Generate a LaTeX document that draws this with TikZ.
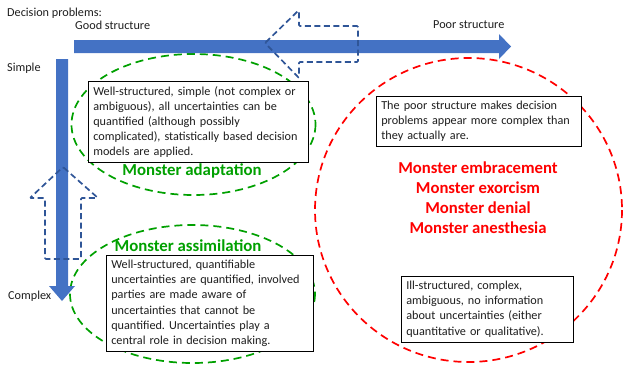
\documentclass[tikz,border=0pt]{standalone}
\usepackage{fontspec}
\setmainfont{Carlito}
\frenchspacing
\definecolor{barblue}{RGB}{68,114,196}
\definecolor{dashblue}{RGB}{47,85,151}
\definecolor{mgreen}{RGB}{0,160,0}
\definecolor{mred}{RGB}{255,0,0}
\definecolor{txt}{RGB}{30,30,30}
\begin{document}
\begin{tikzpicture}[x=1bp,y=-1bp,
  font=\fontsize{12.2bp}{15.2bp}\selectfont, text=txt,
  bar/.style={fill=barblue},
  dasharrow/.style={draw=dashblue,line width=1.7bp,dash pattern=on 6bp off 3.5bp,rounded corners=1bp},
  greenring/.style={draw=mgreen,line width=1.7bp,dash pattern=on 8bp off 5bp},
  redring/.style={draw=mred,line width=1.7bp,dash pattern=on 8bp off 5bp},
  infobox/.style={draw=black,line width=0.6bp,fill=white,anchor=north west,align=left,inner xsep=5bp,inner ysep=4.8bp},
  greenlabel/.style={text=mgreen,font=\fontsize{16.8bp}{18bp}\selectfont\bfseries},
  redlabel/.style={text=mred,font=\fontsize{16.7bp}{20bp}\selectfont\bfseries,align=center},
  plain/.style={anchor=west,inner sep=0pt}]
\useasboundingbox (0,0) rectangle (623,366);

% ellipses
\draw[greenring] (193.5,124.5) ellipse [x radius=122, y radius=70.5];
\draw[greenring] (192.5,294) ellipse [x radius=122.5, y radius=69];
\draw[redring] (468.5,210) ellipse [x radius=153.5, y radius=152];

% solid arrows
\fill[bar] (74,40) -- (499,40) -- (499,34) -- (511,46.5) -- (499,59) -- (499,53) -- (74,53) -- cycle;
\fill[bar] (56,59) -- (68,59) -- (68,286) -- (75,286) -- (62,301) -- (49,286) -- (56,286) -- cycle;

% dashed block arrows
\draw[dasharrow] (265,43) -- (299,10) -- (299,26) -- (358,26) -- (358,62) -- (299,62) -- (299,78) -- cycle;
\draw[dasharrow] (63,167) -- (98,198) -- (81,198) -- (81,259) -- (45,259) -- (45,198) -- (30,198) -- cycle;

% axis labels
\node[plain] (dp) at (7,13) {Decision problems:};
\node[plain] (good) at (75,25) {Good structure};
\node[plain] (poor) at (433,25) {Poor structure};
\node[plain] (simple) at (7,68) {Simple};
\node[plain] (complex) at (8,296) {Complex};

% boxes
\node[infobox,text width=210bp] (b1) at (88,81) {Well-structured, simple (not complex or\\ambiguous), all uncertainties can be\\quantified (although possibly\\complicated), statistically based decision\\models are applied.};
\node[infobox,text width=197bp] (b2) at (106,255) {Well-structured, quantifiable\\uncertainties are quantified, involved\\parties are made aware of\\uncertainties that cannot be\\quantified. Uncertainties play a\\central role in decision making.};
\node[infobox,text width=195bp] (b3) at (376,96) {The poor structure makes decision\\problems appear more complex than\\they actually are.};
\node[infobox,text width=162bp] (b4) at (401,276) {Ill-structured, complex,\\ambiguous, no information\\about uncertainties (either\\quantitative or qualitative).};

% monster labels
\node[greenlabel] (adapt) at (192,171) {Monster adaptation};
\node[greenlabel] (assim) at (188,246) {Monster assimilation};
\node[redlabel] (reds) at (478,198) {Monster embracement\\Monster exorcism\\Monster denial\\Monster anesthesia};
\end{tikzpicture}
\end{document}
